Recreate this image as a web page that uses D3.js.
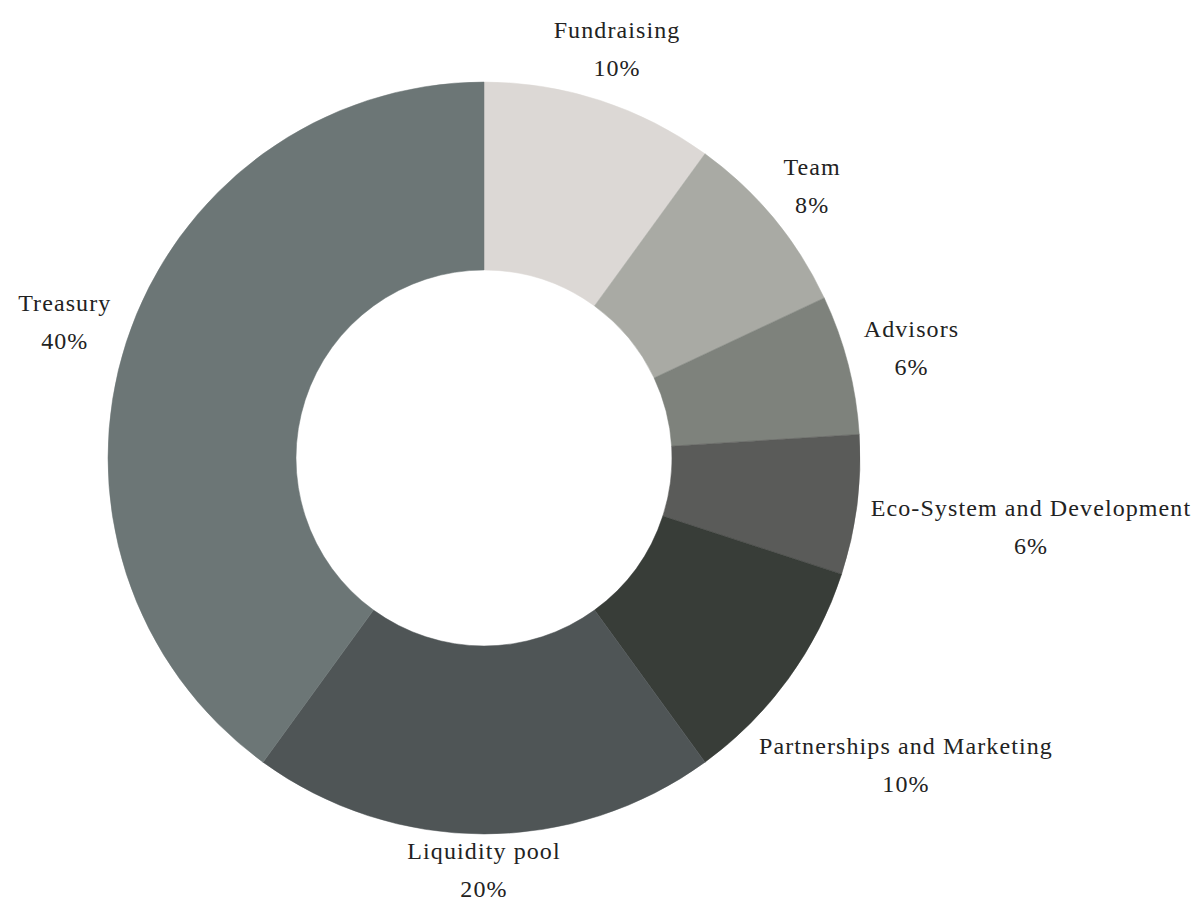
<!DOCTYPE html>
<html>
<head>
<meta charset="utf-8">
<script src="https://cdn.jsdelivr.net/npm/d3@7"></script>
<style>
  body { margin: 0; background: #fff; }
  svg { display: block; }
</style>
</head>
<body>
<div id="chart"></div>
<script>
// token allocation
var labels = ["Fundraising", "Team", "Advisors", "Eco-System and Development", "Partnerships and Marketing", "Liquidity pool", "Treasury"];
var values = [10, 8, 6, 6, 10, 20, 40];
var colors = ["#dcd8d5", "#a9aaa4", "#7e827c", "#5a5b59", "#383d38", "#4f5556", "#6c7676"];

var width = 1202, height = 908;
var cx = 484, cy = 458;
var outerR = 376, innerR = 188;

var svg = d3.select("#chart").append("svg")
	.attr("width", width)
	.attr("height", height);

var g = svg.append("g").attr("transform", "translate(" + cx + "," + cy + ")");

var data = labels.map(function(l, i) { return {label: l, value: values[i], color: colors[i]}; });

var pie = d3.pie().sort(null).value(function(d) { return d.value; });
var arc = d3.arc().innerRadius(innerR).outerRadius(outerR);

var arcs = pie(data);

g.selectAll("path.slice")
	.data(arcs)
	.enter().append("path")
	.attr("class", "slice")
	.attr("d", arc)
	.attr("fill", function(d) { return d.data.color; })
	.attr("stroke", function(d) { return d.data.color; })
	.attr("stroke-width", 0.5);

var total = d3.sum(values);
var fmt = function(v) { return Math.round(v / total * 100) + "%"; };

var lineGap = 38;

var labelG = g.selectAll("g.label")
	.data(arcs)
	.enter().append("g")
	.attr("class", "label");

function addLine(el, y, txt)
{
	return el.append("text")
		.attr("text-anchor", "middle")
		.attr("y", y)
		.style("font-family", "'Liberation Serif', 'DejaVu Serif', serif")
		.style("font-size", "24px")
		.style("letter-spacing", "1.1px")
		.style("fill", "#222")
		.text(txt);
}

labelG.each(function(d)
{
	var el = d3.select(this);
	var t1 = addLine(el, -lineGap / 2 + 8, d.data.label);
	var t2 = addLine(el, lineGap / 2 + 8, fmt(d.data.value));

	var w = Math.max(t1.node().getComputedTextLength(), t2.node().getComputedTextLength());
	var a = (d.startAngle + d.endAngle) / 2;
	var sx = Math.sin(a), sy = -Math.cos(a);
	// push the label box out so it clears the ring
	var dist = outerR + 13.5 + (w / 2) * Math.abs(sx) + 22.5 * Math.abs(sy);
	el.attr("transform", "translate(" + (dist * sx) + "," + (dist * sy) + ")");
});
</script>
</body>
</html>
